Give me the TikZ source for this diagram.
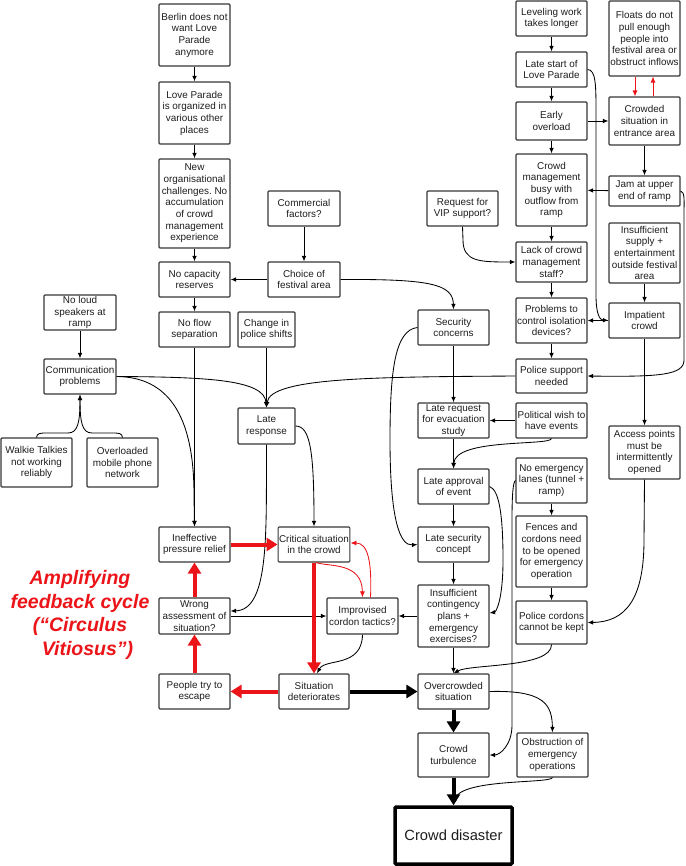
\documentclass[tikz,border=0pt]{standalone}
\usepackage{fontspec}
\setmainfont{Liberation Sans}
\usetikzlibrary{arrows.meta}
\definecolor{myred}{RGB}{235,20,25}
\definecolor{boxline}{RGB}{55,55,55}
\definecolor{txt}{RGB}{30,30,30}
\frenchspacing
\begin{document}
\begin{tikzpicture}[x=1pt,y=-1pt,
  box/.style={draw=boxline,line width=1.1pt,rounded corners=1pt,fill=white,align=center,
    inner sep=1pt,text=txt,font=\fontsize{9.9}{11.7}\selectfont},
  bx/.style 2 args={box,minimum width=#1,minimum height=#2},
  con/.style={line width=0.85pt,black,-{Latex[length=5.5pt,width=4.5pt]}},
  rcon/.style={line width=0.85pt,myred,-{Latex[length=6pt,width=5pt]}},
  thr/.style={line width=4pt,myred,-{Triangle[length=11pt,width=13pt]}},
  thb/.style={line width=4pt,black,-{Triangle[length=11pt,width=13pt]}}]
\useasboundingbox (0,0) rectangle (685,866);
% left column
\node[bx={71}{62}] (berlin) at (194.5,35) {Berlin does not\\want Love\\Parade\\anymore};
\node[bx={71}{62}] (lovep) at (194.5,113) {Love Parade\\is organized in\\various other\\places};
\node[bx={71}{89}] (neworg) at (194.5,203.5) {New\\organisational\\challenges. No\\accumulation\\of crowd\\management\\experience};
\node[bx={71}{35}] (nocap) at (194.5,279.5) {No capacity\\reserves};
\node[bx={72}{35}] (commercial) at (304,208.5) {Commercial\\factors?};
\node[bx={72}{35}] (choice) at (304,279.5) {Choice of\\festival area};
\node[bx={72}{35}] (noloud) at (80,312.5) {No loud\\speakers at\\ramp};
\node[bx={72}{35}] (comm) at (80,376.5) {Communication\\problems};
\node[bx={71}{49}] (walkie) at (36.5,462.5) {Walkie Talkies\\not working\\reliably};
\node[bx={71}{49}] (overloaded) at (122.5,462.5) {Overloaded\\mobile phone\\network};
\node[bx={71}{35}] (noflow) at (194.5,329.5) {No flow\\separation};
\node[bx={57}{35}] (change) at (266.5,329.5) {Change in\\police shifts};
\node[bx={57}{36}] (lateresp) at (266.5,426) {Late\\response};
\node[bx={71}{35}] (ineff) at (194.5,544.5) {Ineffective\\pressure relief};
\node[bx={70}{35}] (critical) at (314,544.5) {Critical situation\\in the crowd};
\node[bx={71}{36}] (wrong) at (194.5,616) {Wrong\\assessment of\\situation?};
\node[bx={71}{36}] (improv) at (362.5,616) {Improvised\\cordon tactics?};
\node[bx={71}{35}] (people) at (194.5,691.5) {People try to\\escape};
\node[bx={70}{35}] (deter) at (314,691.5) {Situation\\deteriorates};
% middle column
\node[bx={71}{35}] (security) at (453.5,327.5) {Security\\concerns};
\node[bx={71}{35}] (laterequest) at (453.5,420.5) {Late request\\for evacuation\\study};
\node[bx={71}{35}] (lateapproval) at (453.5,486.5) {Late approval\\of event};
\node[bx={71}{35}] (latesecurity) at (453.5,544.5) {Late security\\concept};
\node[bx={71}{62}] (insuffcont) at (453.5,616) {Insufficient\\contingency\\plans +\\emergency\\exercises?};
\node[bx={71}{35}] (overcrowded) at (453.5,691.5) {Overcrowded\\situation};
\node[bx={71}{44}] (turbulence) at (453.5,755) {Crowd\\turbulence};
\node[bx={71}{44}] (obstruction) at (552.5,755) {Obstruction of\\emergency\\operations};
\node[box,minimum width=117,minimum height=57,line width=3.5pt,draw=black,
  font=\fontsize{14.7}{17}\selectfont] (disaster) at (453.5,835.5) {Crowd disaster};
\node[bx={71}{35}] (vip) at (462.5,208.5) {Request for\\VIP support?};
% right columns
\node[bx={71}{35}] (leveling) at (551.5,18.5) {Leveling work\\takes longer};
\node[bx={71}{35}] (latestart) at (551.5,69.5) {Late start of\\Love Parade};
\node[bx={71}{38}] (early) at (551.5,121) {Early\\overload};
\node[bx={71}{72}] (cmbusy) at (551.5,190) {Crowd\\management\\busy with\\outflow from\\ramp};
\node[bx={71}{40}] (lack) at (551.5,262) {Lack of crowd\\management\\staff?};
\node[bx={71}{45}] (problems) at (551.5,320.5) {Problems to\\control isolation\\devices?};
\node[bx={71}{34}] (policesupport) at (551.5,376) {Police support\\needed};
\node[bx={71}{35}] (political) at (551.5,420.5) {Political wish to\\have events};
\node[bx={71}{45}] (noemerg) at (551.5,480.5) {No emergency\\lanes (tunnel +\\ramp)};
\node[bx={71}{71}] (fences) at (551.5,551.5) {Fences and\\cordons need\\to be opened\\for emergency\\operation};
\node[bx={71}{43}] (cordons) at (551.5,622.5) {Police cordons\\cannot be kept};
\node[bx={71}{75}] (floats) at (644.5,38.5) {Floats do not\\pull enough\\people into\\festival area or\\obstruct inflows};
\node[bx={71}{48}] (crowded) at (644.5,121) {Crowded\\situation in\\entrance area};
\node[bx={71}{30}] (jam) at (644.5,191) {Jam at upper\\end of ramp};
\node[bx={71}{60}] (insuffsupply) at (644.5,253) {Insufficient\\supply +\\entertainment\\outside festival\\area};
\node[bx={71}{35}] (impatient) at (644.5,320.5) {Impatient\\crowd};
\node[bx={71}{53}] (access) at (644.5,452.5) {Access points\\must be\\intermittently\\opened};
% red label
\node[align=center,text=myred,font=\fontsize{19.5}{23.5}\selectfont\bfseries\itshape] (amp) at (80,615)
  {Amplifying\\feedback cycle\\(“Circulus\\\hspace*{15pt}Vitiosus”)};
% straight connectors
\draw[con] (berlin) -- (lovep);
\draw[con] (lovep) -- (neworg);
\draw[con] (neworg) -- (nocap);
\draw[con] (commercial) -- (choice);
\draw[con] (choice) -- (nocap);
\draw[con] (nocap) -- (noflow);
\draw[con] (noflow) -- (ineff);
\draw[con] (noloud) -- (comm);
\draw[con] (change) -- (lateresp);
\draw[con] (security) -- (laterequest);
\draw[con] (political) -- (laterequest);
\draw[con] (laterequest) -- (lateapproval);
\draw[con] (lateapproval) -- (latesecurity);
\draw[con] (latesecurity) -- (insuffcont);
\draw[con] (insuffcont) -- (overcrowded);
\draw[con] (insuffcont) -- (improv);
\draw[con] (wrong.east) -- (improv.west);
\draw[con] (leveling) -- (latestart);
\draw[con] (latestart) -- (early);
\draw[con] (early) -- (crowded);
\draw[con] (early) -- (cmbusy);
\draw[con] (cmbusy) -- (lack);
\draw[con] (lack) -- (problems);
\draw[con] (problems) -- (policesupport);
\draw[con] (crowded) -- (jam);
\draw[con] (jam) -- (cmbusy);
\draw[con] (insuffsupply) -- (impatient);
\draw[con] (impatient) -- (problems);
\draw[con] (impatient) -- (access);
\draw[con] (noemerg) -- (fences);
\draw[con] (fences) -- (cordons);
\draw[rcon] ([xshift=-9.5pt]floats.south) -- ([xshift=-9.5pt]crowded.north);
\draw[rcon] ([xshift=8.5pt]crowded.north) -- ([xshift=8.5pt]floats.south);
% curved connectors
\draw[con] (choice.east) .. controls (430,279) and (453,284) .. (security.north);
\draw[con] (walkie.north) .. controls (37,433) and (40,433) .. (48,433) -- (68,433)
  .. controls (78,433) and (80,422) .. (comm.south);
\draw[con] (overloaded.north) .. controls (122,433) and (119,433) .. (111,433) -- (92,433)
  .. controls (82,433) and (80,422) .. (comm.south);
\draw[con] (comm.east) .. controls (168,377) and (194,415) .. (194,495) -- (ineff.north);
\draw[con] (comm.east) .. controls (210,377) and (264,380) .. (lateresp.north);
\draw[con] (policesupport.west) .. controls (380,377) and (270,377) .. (lateresp.north);
\draw[con] (lateresp.east) .. controls (310,426) and (314,450) .. (critical.north);
\draw[con] (lateresp.south) .. controls (266,530) and (270,610) .. ([yshift=5pt]wrong.east);
\draw[rcon] ([xshift=2pt]critical.south) .. controls (330,567) and (362,562) .. (improv.north);
\draw[rcon] ([xshift=8pt]improv.north) .. controls (372,562) and (368,543) .. ([yshift=1.5pt]critical.east);
\draw[con] (improv.south) .. controls (362,668) and (325,658) .. ([xshift=3pt]deter.north);
\draw[con] (security.west) .. controls (395,330) and (390,370) .. (390,440)
  .. controls (390,520) and (400,546) .. (latesecurity.west);
\draw[con] (political.south) .. controls (550,446) and (455,438) .. (lateapproval.north);
\draw[con] (lateapproval.east) .. controls (500,490) and (503,520) .. (503,560)
  .. controls (503,600) and (496,612) .. ([yshift=3pt]insuffcont.east);
\draw[con] (noemerg.west) .. controls (513,482) and (512,495) .. (512,520) -- (512,725)
  .. controls (512,745) and (500,755) .. (turbulence.east);
\draw[con] (cordons.south) .. controls (552,668) and (470,664) .. (overcrowded.north);
\draw[con] (access.south) -- (644,540) .. controls (644,600) and (625,622) .. (cordons.east);
\draw[con] (overcrowded.east) .. controls (545,690) and (552,705) .. (obstruction.north);
\draw[con] (obstruction.south) .. controls (550,784) and (458,778) .. (disaster.north);
\draw[con] (vip.south) -- (463,240) .. controls (463,262) and (480,262) .. (lack.west);
\draw[con] (latestart.east) .. controls (596,70) and (596,85) .. (596,115) -- (596,295)
  .. controls (596,315) and (600,320) .. (impatient.west);
\draw[con] (jam.east) .. controls (685,192) and (684,200) .. (684,215) -- (684,360)
  .. controls (684,375) and (660,377) .. (policesupport.east);
% thick feedback arrows
\draw[thr] (ineff) -- (critical);
\draw[thr] (critical) -- (deter);
\draw[thr] (deter) -- (people);
\draw[thr] (people) -- (wrong);
\draw[thr] (wrong) -- (ineff);
\draw[thb] (deter) -- (overcrowded);
\draw[thb] (overcrowded) -- (turbulence);
\draw[thb] (turbulence) -- (disaster);
\end{tikzpicture}
\end{document}
